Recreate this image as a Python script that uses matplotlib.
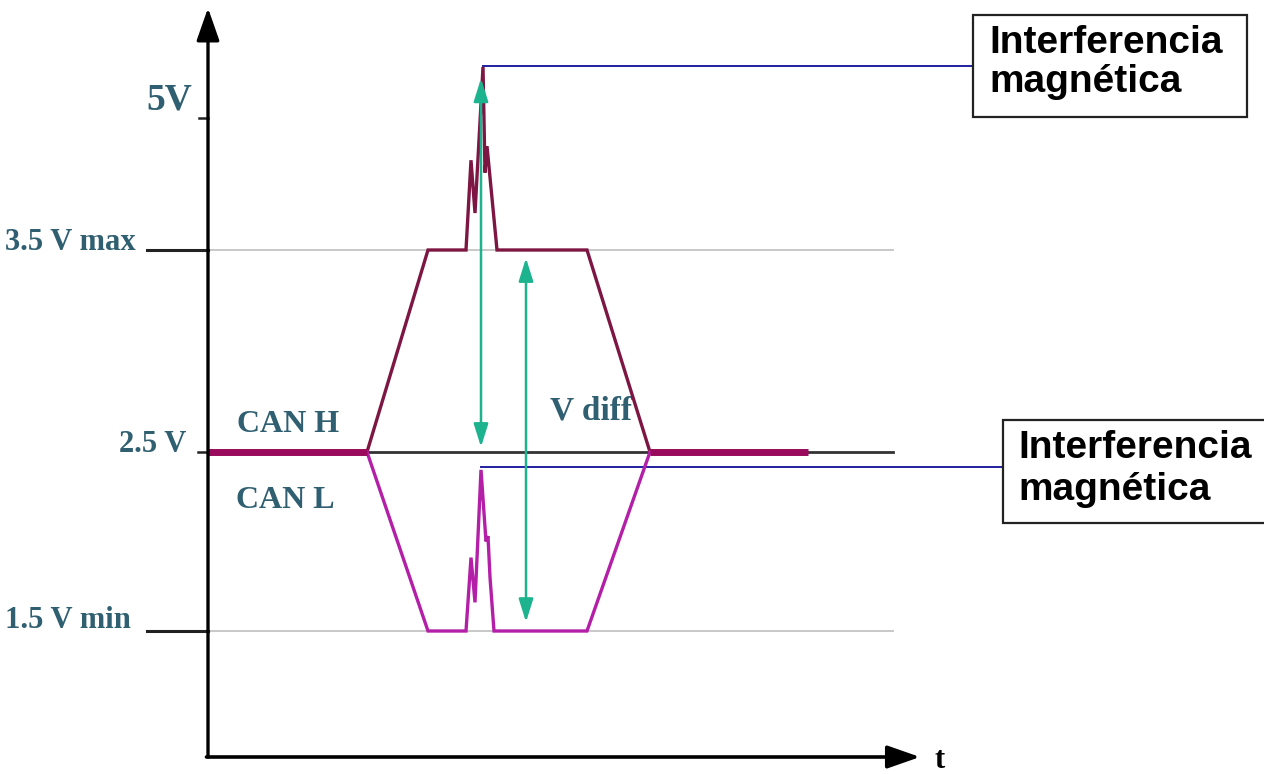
import numpy as np
import matplotlib
matplotlib.use("Agg")
import matplotlib.pyplot as plt
from matplotlib.patches import Rectangle

# ---------------- data (time in arbitrary units, voltage in V) ----------------
level_volts = [1.5, 2.5, 3.5, 5.0]
level_labels = ["1.5 V min", "2.5 V", "3.5 V max", "5V"]

canh_t = [367, 428, 466, 471, 475, 483, 485, 487, 497, 587, 650]
canh_v = [2.5, 3.5, 3.5, 4.52, 3.92, 5.58, 4.38, 4.68, 3.5, 3.5, 2.5]

canl_t = [367, 428, 466, 471, 475, 481, 486, 488, 490, 494, 587, 650]
canl_v = [2.5, 1.5, 1.5, 1.91, 1.66, 2.40, 2.00, 2.03, 1.80, 1.5, 1.5, 2.5]

recessive_segments = [(208, 367), (650, 808)]
recessive_v = 2.5

spike_arrow_t = 481
spike_arrow_v = (2.525, 5.45)
vdiff_arrow_t = 526
vdiff_arrow_v = (1.55, 3.46)

interf_high = (483, 5.59)   # start of connector to upper box
interf_low = (481, 2.416)   # start of connector to lower box

box_text = ["Interferencia", "magnética"]

# ---------------- schematic (non-linear) vertical scale ----------------
W, H = 1264, 774
P_KNOTS = np.array([631.0, 452.0, 250.0, 118.0])  # pixel rows of the levels
V_KNOTS = np.array(level_volts)
v_lo = 1.5 - (H - 631.0) / 179.0
v_hi = 5.0 + 118.0 / 88.0
VK = np.concatenate([[v_lo], V_KNOTS, [v_hi]])
HK = np.concatenate([[0.0], H - P_KNOTS, [H]])


def fwd(v):
    return np.interp(v, VK, HK)


def inv(h):
    return np.interp(h, HK, VK)


def vrow(p):
    """layout helper: pixel row -> voltage"""
    return float(inv(H - p))


fig = plt.figure(figsize=(W / 100, H / 100), dpi=100)
ax = fig.add_axes([0, 0, 1, 1])
ax.set_yscale("function", functions=(fwd, inv))
ax.set_xlim(0, W)
ax.set_ylim(v_lo, v_hi)
ax.axis("off")

serif = dict(family="Liberation Serif", weight="bold", color="#2f5f70")
sans = dict(family="Liberation Sans", weight="bold", color="black")

x_axis0 = 208
x_end = 893
v_axis = vrow(757)

# reference lines
ax.plot([x_axis0, x_end], [3.5, 3.5], color="#c8c8c8", lw=1.4, zorder=1)
ax.plot([x_axis0, x_end], [1.5, 1.5], color="#c8c8c8", lw=1.4, zorder=1)
ax.plot([x_axis0, x_end], [2.5, 2.5], color="#333333", lw=2.0, zorder=2)

# tick stubs on the left
ax.plot([147, x_axis0], [3.5, 3.5], color="#222222", lw=2.2, zorder=3)
ax.plot([147, x_axis0], [1.5, 1.5], color="#222222", lw=2.2, zorder=3)
ax.plot([199, x_axis0], [5.0, 5.0], color="#222222", lw=1.8, zorder=3)
ax.plot([198, x_axis0], [2.5, 2.5], color="#222222", lw=1.8, zorder=3)

# axes with arrows
ax.annotate("", xy=(x_axis0, vrow(8)), xytext=(x_axis0, v_axis),
            arrowprops=dict(arrowstyle="-|>,head_length=1.0,head_width=0.35",
                            color="black", lw=2.4, mutation_scale=20,
                            shrinkA=0, shrinkB=0), zorder=5)
ax.annotate("", xy=(920, v_axis), xytext=(x_axis0 - 1.5, v_axis),
            arrowprops=dict(arrowstyle="-|>,head_length=1.0,head_width=0.35",
                            color="black", lw=2.6, mutation_scale=20,
                            shrinkA=0, shrinkB=0), zorder=5)
ax.text(940, vrow(768), "t", fontsize=22, ha="center", va="baseline",
        family="Liberation Serif", weight="bold", color="black")

# waveforms
ax.plot(canh_t, canh_v, color="#7d1642", lw=2.4, zorder=4, solid_joinstyle="miter")
ax.plot(canl_t, canl_v, color="#b41fa8", lw=2.4, zorder=4, solid_joinstyle="miter")
for a, b in recessive_segments:
    ax.plot([a, b], [recessive_v, recessive_v], color="#9a0a5c", lw=5.0,
            zorder=4, solid_capstyle="butt")

# connectors to the boxes
ax.plot([interf_high[0], 973], [interf_high[1]] * 2, color="#2020a0", lw=1.4, zorder=3)
ax.plot([interf_low[0], 1003], [interf_low[1]] * 2, color="#2020a0", lw=1.4, zorder=3)

# double arrows
for t, (v0, v1) in [(spike_arrow_t, spike_arrow_v), (vdiff_arrow_t, vdiff_arrow_v)]:
    ax.annotate("", xy=(t, v1), xytext=(t, v0),
                arrowprops=dict(arrowstyle="<|-|>,head_length=0.7,head_width=0.22",
                                color="#1db38f", lw=1.8, mutation_scale=20,
                                shrinkA=0, shrinkB=0), zorder=6)

# level labels
label_pos = {"5V": (192, vrow(110), 27),
             "3.5 V max": (136, vrow(250), 22),
             "2.5 V": (186, vrow(452), 22),
             "1.5 V min": (131, vrow(628), 22)}
for lab in level_labels:
    x, y, fs = label_pos[lab]
    ax.text(x, y, lab, fontsize=fs, ha="right", va="baseline", **serif)

ax.text(237, vrow(432), "CAN H", fontsize=23, ha="left", va="baseline", **serif)
ax.text(236, vrow(508), "CAN L", fontsize=23, ha="left", va="baseline", **serif)
ax.text(550, vrow(420), "V diff", fontsize=24, ha="left", va="baseline", **serif)

# boxes
for (x0, y0, x1, y1, tx, b1, b2) in [(973, 15, 1247, 117, 989, 53, 92),
                                     (1003, 420, 1275, 523, 1018, 458, 500)]:
    ax.add_patch(Rectangle((x0, vrow(y1)), x1 - x0, vrow(y0) - vrow(y1),
                           facecolor="white", edgecolor="#222222", lw=1.6, zorder=7))
    ax.text(tx, vrow(b1), box_text[0], fontsize=28, ha="left", va="baseline",
            zorder=8, **sans)
    ax.text(tx, vrow(b2), box_text[1], fontsize=28, ha="left", va="baseline",
            zorder=8, **sans)

fig.savefig("out.png", dpi=100)
